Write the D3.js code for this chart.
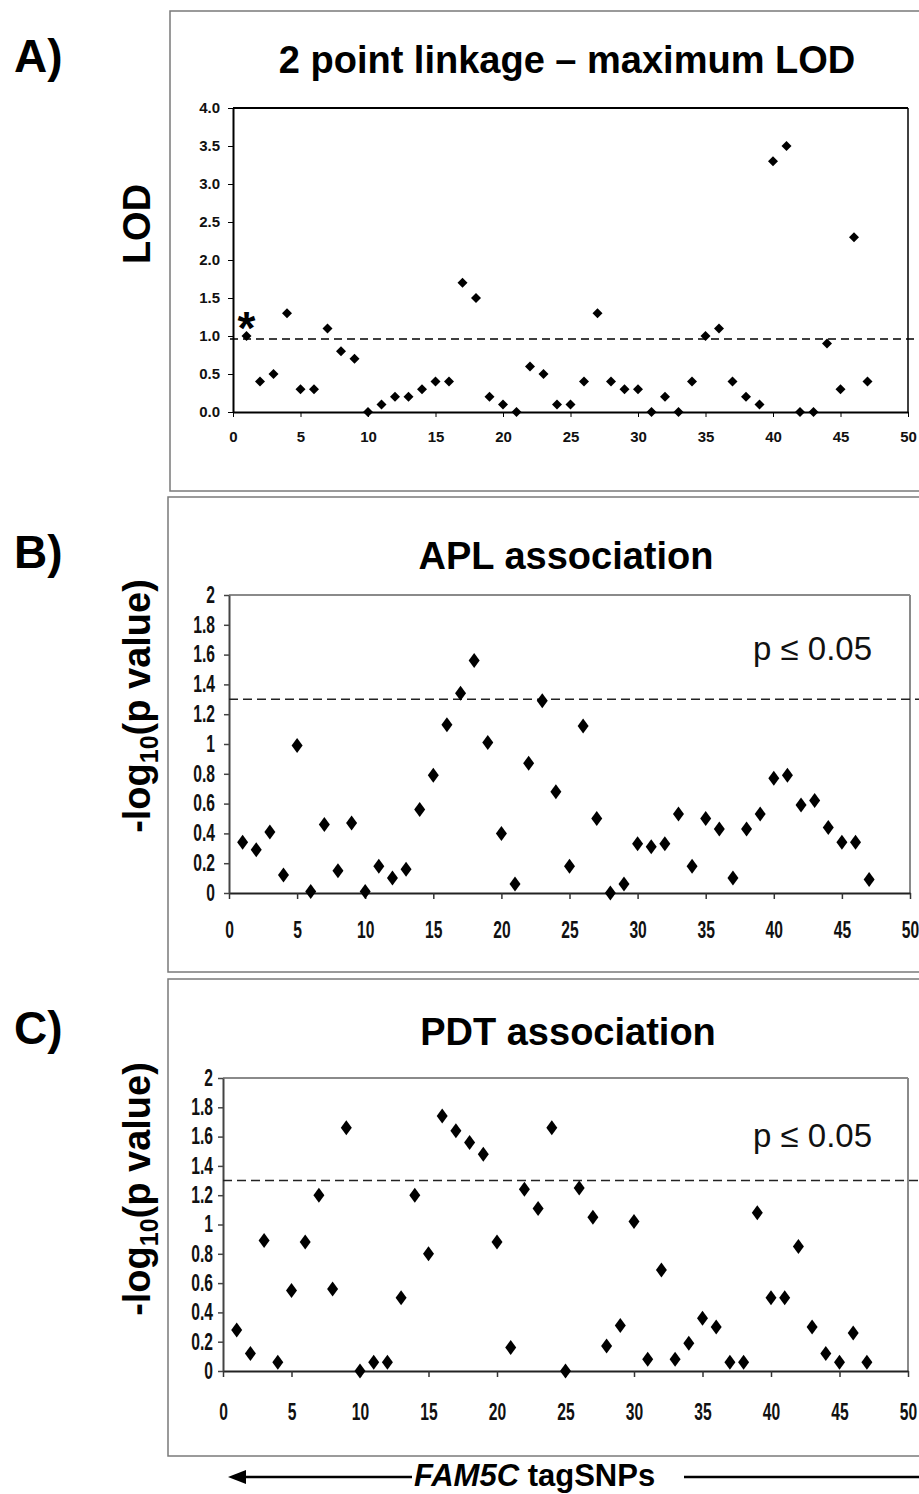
<!DOCTYPE html>
<html><head><meta charset="utf-8">
<script src="https://cdn.jsdelivr.net/npm/d3@7"></script>
<style>
html,body{margin:0;padding:0;background:#fff;}
svg{display:block;}
</style></head>
<body>
<script>
// ---------- DATA ----------
const snps = d3.range(1, 48); // tagSNP index 1..47
const lodValues = [1.0,0.4,0.5,1.3,0.3,0.3,1.1,0.8,0.7,0.0,0.1,0.2,0.2,0.3,0.4,0.4,1.7,1.5,0.2,0.1,0.0,0.6,0.5,0.1,0.1,0.4,1.3,0.4,0.3,0.3,0.0,0.2,0.0,0.4,1.0,1.1,0.4,0.2,0.1,3.3,3.5,0.0,0.0,0.9,0.3,2.3,0.4];
const aplValues = [0.34,0.29,0.41,0.12,0.99,0.01,0.46,0.15,0.47,0.01,0.18,0.10,0.16,0.56,0.79,1.13,1.34,1.56,1.01,0.40,0.06,0.87,1.29,0.68,0.18,1.12,0.50,0.0,0.06,0.33,0.31,0.33,0.53,0.18,0.50,0.43,0.10,0.43,0.53,0.77,0.79,0.59,0.62,0.44,0.34,0.34,0.09];
const pdtValues = [0.28,0.12,0.89,0.06,0.55,0.88,1.20,0.56,1.66,0.0,0.06,0.06,0.50,1.20,0.80,1.74,1.64,1.56,1.48,0.88,0.16,1.24,1.11,1.66,0.0,1.25,1.05,0.17,0.31,1.02,0.08,0.69,0.08,0.19,0.36,0.30,0.06,0.06,1.08,0.50,0.50,0.85,0.30,0.12,0.06,0.26,0.06];
const xTicks = [0,5,10,15,20,25,30,35,40,45,50];
const lodTicks = [0,0.5,1,1.5,2,2.5,3,3.5,4];
const pTicks = [0,0.2,0.4,0.6,0.8,1,1.2,1.4,1.6,1.8,2];
const lodThreshold = 0.96;
const pThreshold = 1.3;
const titles = ["2 point linkage \u2013 maximum LOD", "APL association", "PDT association"];
const panelLetters = ["A)", "B)", "C)"];

// ---------- DRAW ----------
const W = 919, H = 1494;
const SANS = "'Liberation Sans', Arial, Helvetica, sans-serif";
const SQ = 0.68; // horizontal squeeze to mimic a narrow bold face
const svg = d3.select("body").append("svg").attr("width", W).attr("height", H);

function diamond(g, data, x, y, hw, hh) {
  g.selectAll("path.pt").data(data).join("path").attr("class", "pt")
    .attr("d", d => {
      const cx = x(d.x), cy = y(d.y);
      return `M${cx},${cy - hh}L${cx + hw},${cy}L${cx},${cy + hh}L${cx - hw},${cy}Z`;
    })
    .attr("fill", "#000");
}

// panel frames
const frames = [
  {x: 170, y: 11, h: 480},
  {x: 168, y: 497, h: 475},
  {x: 168, y: 979, h: 477}
];
frames.forEach(f => {
  svg.append("rect").attr("x", f.x).attr("y", f.y).attr("width", W + 20 - f.x).attr("height", f.h)
    .attr("fill", "none").attr("stroke", "#7a7a7a").attr("stroke-width", 1.5);
});

// panel letters and titles
const titleBase = [73, 569, 1045];
const titleX = [567, 566, 568];
panelLetters.forEach((t, i) => {
  svg.append("text").attr("x", 14).attr("y", titleBase[i] - 1).text(t)
    .attr("font-family", SANS).attr("font-weight", "bold").attr("font-size", 46);
  svg.append("text").attr("x", titleX[i]).attr("y", titleBase[i]).attr("text-anchor", "middle").text(titles[i])
    .attr("font-family", SANS).attr("font-weight", "bold").attr("font-size", 38);
});

// ---------- Panel A ----------
{
  const L = 233, R = 908, T = 108, B = 412;
  const x = d3.scaleLinear().domain([0, 50]).range([L, R]);
  const y = d3.scaleLinear().domain([0, 4]).range([B, T]);
  const g = svg.append("g");
  g.append("line").attr("x1", L).attr("x2", R).attr("y1", T).attr("y2", T).attr("stroke", "#000").attr("stroke-width", 2);
  g.append("line").attr("x1", R).attr("x2", R).attr("y1", T).attr("y2", B).attr("stroke", "#000").attr("stroke-width", 1.5);
  const xa = g.append("g").attr("transform", `translate(0,${B})`)
    .call(d3.axisBottom(x).tickValues(xTicks).tickSize(5).tickSizeOuter(0).tickPadding(14));
  xa.select(".domain").attr("stroke-width", 2);
  xa.selectAll("text").attr("font-family", SANS).attr("font-weight", "bold").attr("font-size", 15).attr("fill", "#111");
  const ya = g.append("g").attr("transform", `translate(${L},0)`)
    .call(d3.axisLeft(y).tickValues(lodTicks).tickSize(5).tickSizeOuter(0).tickPadding(8).tickFormat(d3.format(".1f")));
  ya.select(".domain").attr("stroke-width", 2);
  ya.selectAll("text").attr("font-family", SANS).attr("font-weight", "bold").attr("font-size", 15).attr("fill", "#111");
  g.append("line").attr("x1", L - 3).attr("x2", W).attr("y1", y(lodThreshold)).attr("y2", y(lodThreshold))
    .attr("stroke", "#000").attr("stroke-width", 1.5).attr("stroke-dasharray", "8,5");
  diamond(g, snps.map((s, i) => ({x: s, y: lodValues[i]})), x, y, 5, 5);
  // asterisk marking the first SNP
  g.append("text").attr("x", x(1)).attr("y", y(lodValues[0]) + 8).attr("text-anchor", "middle").text("*")
    .attr("font-family", SANS).attr("font-weight", "bold").attr("font-size", 46);
  g.append("text").attr("transform", "translate(150,224) rotate(-90)").attr("text-anchor", "middle").text("LOD")
    .attr("font-family", SANS).attr("font-weight", "bold").attr("font-size", 38);
}

// ---------- Panels B, C ----------
function assocPanel(vals, L, R, T, B, yPad, xPad, labelCy, pBase) {
  const x = d3.scaleLinear().domain([0, 50]).range([L, R]);
  const y = d3.scaleLinear().domain([0, 2]).range([B, T]);
  const g = svg.append("g");
  g.append("line").attr("x1", L).attr("x2", R).attr("y1", T).attr("y2", T).attr("stroke", "#8a8a8a").attr("stroke-width", 2);
  g.append("line").attr("x1", R).attr("x2", R).attr("y1", T).attr("y2", B).attr("stroke", "#8a8a8a").attr("stroke-width", 2);
  const xa = g.append("g").attr("transform", `translate(0,${B})`)
    .call(d3.axisBottom(x).tickValues(xTicks).tickSize(6).tickSizeOuter(0).tickPadding(xPad));
  xa.select(".domain").attr("stroke", "#222").attr("stroke-width", 2);
  xa.selectAll(".tick line").attr("stroke", "#333").attr("stroke-width", 1.5);
  xa.selectAll("text").attr("font-family", SANS).attr("font-weight", "bold").attr("font-size", 23).attr("fill", "#111")
    .attr("transform", `scale(${SQ},1)`);
  const ya = g.append("g").attr("transform", `translate(${L},0)`)
    .call(d3.axisLeft(y).tickValues(pTicks).tickSize(5).tickSizeOuter(0).tickPadding(yPad)
      .tickFormat(d => String(+d.toFixed(1))));
  ya.select(".domain").attr("stroke", "#444").attr("stroke-width", 2);
  ya.selectAll(".tick line").attr("stroke", "#444").attr("stroke-width", 1.5);
  ya.selectAll("text").attr("font-family", SANS).attr("font-weight", "bold").attr("font-size", 23).attr("fill", "#111")
    .attr("x", -(5 + yPad) / SQ).attr("transform", `scale(${SQ},1)`);
  g.append("line").attr("x1", L).attr("x2", W).attr("y1", y(pThreshold)).attr("y2", y(pThreshold))
    .attr("stroke", "#222").attr("stroke-width", 1.5).attr("stroke-dasharray", "9,5");
  diamond(g, snps.map((s, i) => ({x: s, y: vals[i]})), x, y, 5.5, 7.5);
  g.append("text").attr("x", 753).attr("y", pBase).text("p \u2264 0.05")
    .attr("font-family", SANS).attr("font-size", 33).attr("fill", "#111");
  const lab = g.append("text").attr("transform", `translate(150,${labelCy}) rotate(-90)`).attr("text-anchor", "middle")
    .attr("font-family", SANS).attr("font-weight", "bold").attr("font-size", 38);
  lab.append("tspan").text("-log");
  lab.append("tspan").text("10").attr("font-size", 25).attr("dy", 8);
  lab.append("tspan").text("(p value)").attr("dy", -8);
}
assocPanel(aplValues, 229, 910, 595, 893, 9, 23, 706, 660);
assocPanel(pdtValues, 223, 908, 1078, 1371, 5, 27, 1189, 1147);

// ---------- bottom arrow ----------
{
  const yA = 1477;
  svg.append("path").attr("d", `M228,${yA}L246,${yA - 7}L246,${yA + 7}Z`).attr("fill", "#000");
  svg.append("line").attr("x1", 240).attr("x2", 412).attr("y1", yA).attr("y2", yA).attr("stroke", "#000").attr("stroke-width", 2.5);
  svg.append("line").attr("x1", 684).attr("x2", W).attr("y1", yA).attr("y2", yA).attr("stroke", "#000").attr("stroke-width", 2.5);
  const t = svg.append("text").attr("x", 414).attr("y", 1486).attr("font-family", SANS).attr("font-weight", "bold").attr("font-size", 31);
  t.append("tspan").text("FAM5C").attr("font-style", "italic");
  t.append("tspan").text(" tagSNPs");
}
</script>
</body></html>
